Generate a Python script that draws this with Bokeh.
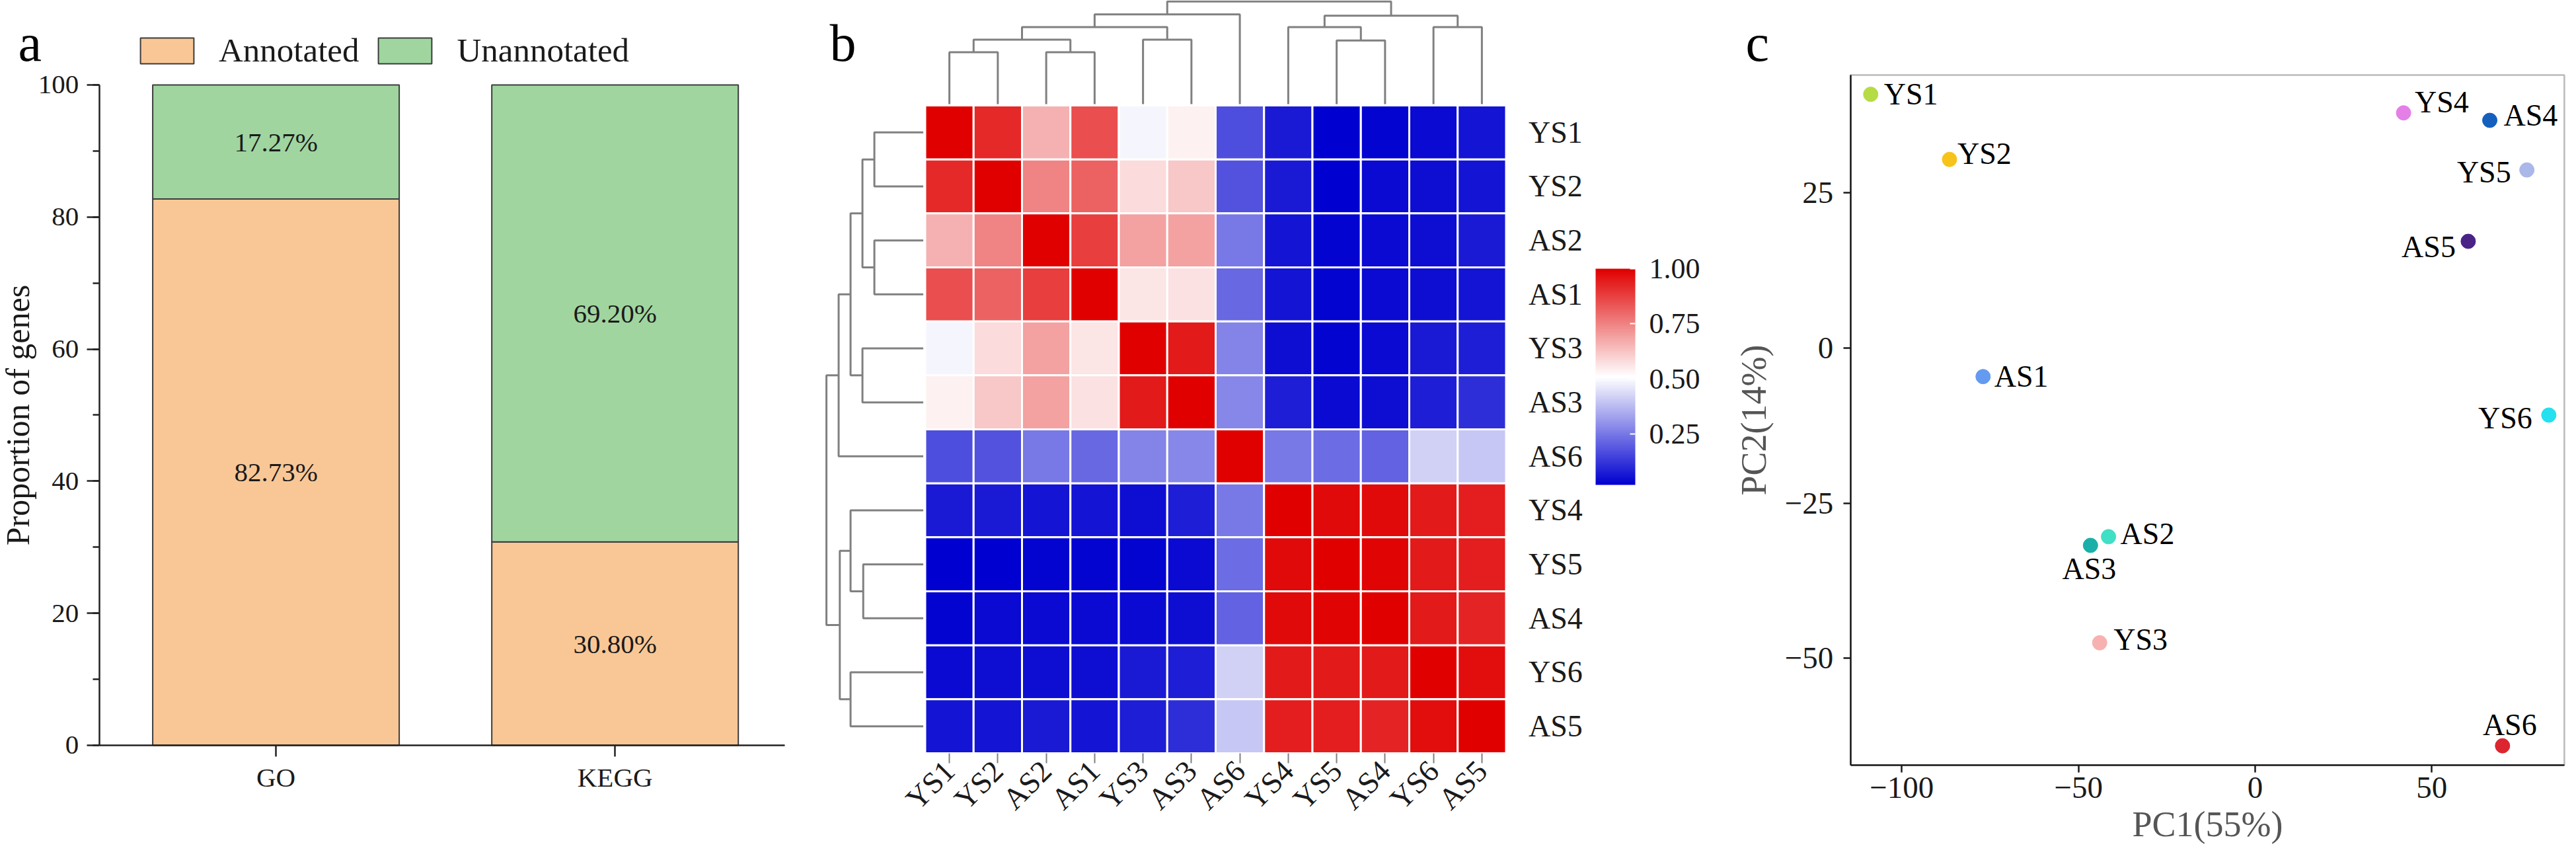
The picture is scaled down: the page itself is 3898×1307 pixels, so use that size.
import numpy as np
from math import pi
from bokeh.plotting import figure
from bokeh.layouts import row
from bokeh.models import (Range1d, FixedTicker, SingleIntervalTicker, Legend, LegendItem,
                          LinearColorMapper, ColorBar, ColumnDataSource, Label,
                          PrintfTickFormatter, BoxAnnotation)
from bokeh.transform import transform
from bokeh.core.properties import value
from bokeh.embed import file_html
from bokeh.resources import INLINE

SERIF = "Liberation Serif"

# ---- a: share of annotated genes
databases = ["GO", "KEGG"]
annotated = [82.73, 30.80]
unannotated = [17.27, 69.20]

# ---- b: sample correlation, in clustered order
samples = ["YS1", "YS2", "AS2", "AS1", "YS3", "AS3", "AS6", "YS4", "YS5", "AS4", "YS6", "AS5"]
corr = [
    [1.00, 0.92, 0.66, 0.85, 0.49, 0.54, 0.17, 0.07, 0.02, 0.03, 0.04, 0.06],
    [0.92, 1.00, 0.75, 0.81, 0.58, 0.62, 0.18, 0.07, 0.02, 0.04, 0.05, 0.06],
    [0.66, 0.75, 1.00, 0.88, 0.69, 0.69, 0.25, 0.06, 0.03, 0.04, 0.05, 0.07],
    [0.85, 0.81, 0.88, 1.00, 0.56, 0.57, 0.22, 0.06, 0.03, 0.04, 0.05, 0.06],
    [0.49, 0.58, 0.69, 0.56, 1.00, 0.95, 0.27, 0.05, 0.03, 0.04, 0.07, 0.08],
    [0.54, 0.62, 0.69, 0.57, 0.95, 1.00, 0.28, 0.08, 0.04, 0.05, 0.08, 0.11],
    [0.17, 0.18, 0.25, 0.22, 0.27, 0.28, 1.00, 0.25, 0.23, 0.21, 0.42, 0.40],
    [0.07, 0.07, 0.06, 0.06, 0.05, 0.08, 0.25, 1.00, 0.98, 0.98, 0.95, 0.94],
    [0.02, 0.02, 0.03, 0.03, 0.03, 0.04, 0.23, 0.98, 1.00, 0.99, 0.95, 0.94],
    [0.03, 0.04, 0.04, 0.04, 0.04, 0.05, 0.21, 0.98, 0.99, 1.00, 0.95, 0.93],
    [0.04, 0.05, 0.05, 0.05, 0.07, 0.08, 0.42, 0.95, 0.95, 0.95, 1.00, 0.97],
    [0.06, 0.06, 0.07, 0.06, 0.08, 0.11, 0.40, 0.94, 0.94, 0.93, 0.97, 1.00],
]
# hierarchical clustering: (left node, right node, relative height); new nodes numbered from 12
merges = [
    (0, 1, 0.505),
    (2, 3, 0.505),
    (12, 13, 0.628),
    (4, 5, 0.628),
    (14, 15, 0.751),
    (16, 6, 0.874),
    (8, 9, 0.620),
    (7, 18, 0.751),
    (10, 11, 0.751),
    (19, 20, 0.862),
    (17, 21, 1.000),
]
cbar_ticks = [0.25, 0.50, 0.75, 1.00]

# ---- c: PCA
pca_names = ["YS1", "YS2", "AS1", "AS2", "AS3", "YS3", "YS4", "AS4", "YS5", "AS5", "YS6", "AS6"]
pc1 = [-108.8, -86.5, -77.0, -41.5, -46.6, -44.0, 42.0, 66.4, 76.9, 60.3, 83.1, 70.0]
pc2 = [40.9, 30.4, -4.6, -30.4, -31.8, -47.5, 37.9, 36.7, 28.7, 17.2, -10.8, -64.1]
pca_colors = ["#b5dc45", "#f7c31a", "#649bf0", "#3fe0c5", "#1bafaa", "#f8b1b1",
              "#e57fe8", "#1560bd", "#a9b8e8", "#4b2387", "#25e0ee", "#dd2530"]
pc1_ticks = [-100, -50, 0, 50]
pc2_ticks = [-50, -25, 0, 25]
pc1_lim = (-114.5, 87.5)
pc2_lim = (-67.2, 44.0)

# label placement (screen px offset, alignment), like repelled labels
label_nudge = {
    "YS1": (20, 0, "left"), "YS2": (12, -9, "left"), "AS1": (17, 0, "left"),
    "AS2": (18, -4, "left"), "AS3": (-2, 36, "center"), "YS3": (21, -5, "left"),
    "YS4": (17, -16, "left"), "AS4": (21, -8, "left"), "YS5": (-24, 3, "right"),
    "AS5": (-19, 8, "right"), "YS6": (-25, 5, "right"), "AS6": (11, -32, "center"),
}

ORANGE = "#f9c796"
GREEN = "#a0d5a0"
EDGE = "#3c3c3c"
INK = "#1a1a1a"
H = 1291


def ramp(c1, c2, n):
    a = np.array(c1, float)
    b = np.array(c2, float)
    return ["#%02x%02x%02x" % tuple(int(round(v)) for v in a + (b - a) * t)
            for t in np.linspace(0, 1, n)]


def dendro_paths(merges, n):
    pos = {i: (float(i), 0.0) for i in range(n)}
    paths = []
    for k, (a, b, h) in enumerate(merges):
        (ca, ha), (cb, hb) = pos[a], pos[b]
        paths.append(([ca, ca, cb, cb], [ha, h, h, hb]))
        pos[n + k] = ((ca + cb) / 2, h)
    return paths


def panel_letter(p, letter, x):
    p.add_layout(Label(x=x, y=H - 64, x_units="screen", y_units="screen", text=letter,
                       text_font=SERIF, text_font_size="80px", text_color="black",
                       text_baseline="alphabetic", text_align="left"))


def bare_figure(width, xr, yr, **kw):
    p = figure(width=width, height=H, x_range=Range1d(*xr), y_range=Range1d(*yr),
               output_backend="svg", toolbar_location=None, min_border=0, **kw)
    p.grid.visible = False
    p.outline_line_color = None
    return p


# ================= panel a =================
pa = bare_figure(1195, (0.1871, 2.5161), (-16.42, 112.81))
AXIS_X = 0.4788
xpos = [i + 1 for i in range(len(databases))]
src_a = ColumnDataSource(dict(x=xpos, ann=annotated,
                              top=[a + u for a, u in zip(annotated, unannotated)]))
r_ann = pa.vbar(x="x", width=0.727, bottom=0, top="ann", source=src_a,
                fill_color=ORANGE, line_color=EDGE, line_width=2)
r_un = pa.vbar(x="x", width=0.727, bottom="ann", top="top", source=src_a,
               fill_color=GREEN, line_color=EDGE, line_width=2)
pa.text(x=xpos + xpos,
        y=[a / 2 for a in annotated] + [a + u / 2 for a, u in zip(annotated, unannotated)],
        text=["%.2f%%" % v for v in annotated + unannotated],
        text_align="center", text_baseline="middle", text_font=value(SERIF),
        text_font_size="41px", text_color=INK)

legend = Legend(items=[LegendItem(label="Annotated", renderers=[r_ann]),
                       LegendItem(label="Unannotated", renderers=[r_un])],
                orientation="horizontal", location=(202, H - 47 - 58),
                glyph_width=101, glyph_height=49, label_standoff=28, spacing=19,
                padding=0, margin=0, border_line_color=None, background_fill_alpha=0,
                label_text_font=SERIF, label_text_font_size="51px", label_text_color=INK)
pa.add_layout(legend)

pa.yaxis.fixed_location = AXIS_X
pa.yaxis.bounds = (0, 100)
pa.yaxis.ticker = SingleIntervalTicker(interval=20, num_minor_ticks=2)
pa.yaxis.axis_label = "Proportion of genes"
pa.yaxis.axis_label_text_font = SERIF
pa.yaxis.axis_label_text_font_size = "50px"
pa.yaxis.axis_label_text_font_style = "normal"
pa.yaxis.axis_label_text_color = INK
pa.yaxis.axis_label_standoff = 0
pa.yaxis.major_label_standoff = 12
pa.yaxis.minor_tick_out = 10
pa.yaxis.minor_tick_in = 0
pa.yaxis.major_tick_out = 19
pa.xaxis.fixed_location = 0
pa.xaxis.bounds = (AXIS_X, 2.50)
pa.xaxis.ticker = FixedTicker(ticks=xpos)
pa.xaxis.major_label_overrides = {x: d for x, d in zip(xpos, databases)}
pa.xaxis.major_label_standoff = 9
pa.xaxis.major_tick_out = 17
for ax in (pa.xaxis, pa.yaxis):
    ax.major_tick_in = 0
    ax.axis_line_width = 2.5
    ax.axis_line_color = "#222222"
    ax.major_tick_line_width = 2.5
    ax.major_tick_line_color = "#222222"
    ax.minor_tick_line_width = 2.5
    ax.minor_tick_line_color = "#222222"
    ax.major_label_text_font = SERIF
    ax.major_label_text_font_size = "41px"
    ax.major_label_text_color = INK
pa.xaxis.minor_tick_line_color = None
panel_letter(pa, "a", 27)

# ================= panel b =================
n = len(samples)
gap_x, gap_y = 0.04, 0.025
span_x, span_y = 2.0, 1.9
pb = bare_figure(1395, (-3.2918, 15.7526), (-2.3612, 13.4465), y_axis_location="right")

flat = [v for r in corr for v in r]
palette = ramp((0, 0, 208), (255, 255, 255), 128) + ramp((255, 255, 255), (224, 0, 0), 128)
mapper = LinearColorMapper(palette=palette, low=min(flat), high=max(flat))
src_b = ColumnDataSource(dict(
    x=[j for i in range(n) for j in range(n)],
    y=[n - 1 - i for i in range(n) for j in range(n)],
    v=flat))
pb.rect(x="x", y="y", width=1, height=1, source=src_b,
        fill_color=transform("v", mapper), line_color="white", line_width=3)

paths = dendro_paths(merges, n)
pb.multi_line(xs=[p[0] for p in paths],
              ys=[[n - 0.5 + gap_y + h * span_y for h in p[1]] for p in paths],
              line_color="#808080", line_width=3)
pb.multi_line(xs=[[-0.5 - gap_x - h * span_x for h in p[1]] for p in paths],
              ys=[[n - 1 - c for c in p[0]] for p in paths],
              line_color="#808080", line_width=3)

pb.xaxis.fixed_location = -0.5
pb.xaxis.ticker = FixedTicker(ticks=list(range(n)))
pb.xaxis.major_label_overrides = {j: s for j, s in enumerate(samples)}
pb.xaxis.major_label_orientation = pi / 4
pb.xaxis.major_tick_out = 15
pb.xaxis.major_tick_line_color = "#808080"
pb.xaxis.major_tick_line_width = 2
pb.xaxis.major_label_standoff = 4
pb.yaxis.fixed_location = n - 0.5
pb.yaxis.ticker = FixedTicker(ticks=[n - 1 - i for i in range(n)])
pb.yaxis.major_label_overrides = {n - 1 - i: s for i, s in enumerate(samples)}
pb.yaxis.major_tick_line_color = None
pb.yaxis.major_label_standoff = 28
for ax in (pb.xaxis, pb.yaxis):
    ax.axis_line_color = None
    ax.major_tick_in = 0
    ax.minor_tick_line_color = None
    ax.major_label_text_font = SERIF
    ax.major_label_text_font_size = "46px"
    ax.major_label_text_color = INK

cbar = ColorBar(color_mapper=mapper, ticker=FixedTicker(ticks=cbar_ticks),
                formatter=PrintfTickFormatter(format="%.2f"),
                width=60, height=327, location=(1219, H - 741 + 8), padding=0, margin=0,
                label_standoff=21, major_label_text_font=SERIF,
                major_label_text_font_size="44px", major_label_text_color=INK,
                major_tick_line_color="white", major_tick_line_width=2,
                major_tick_in=8, major_tick_out=0, minor_tick_line_color=None,
                bar_line_color=None, border_line_color=None, background_fill_alpha=0)
pb.add_layout(cbar)
panel_letter(pb, "b", 60)

# ================= panel c =================
pc = bare_figure(1292, (-153.73, 87.90), (-81.50, 56.04))
pc.scatter(pc1, pc2, size=22, fill_color=pca_colors, line_color=pca_colors)
for align in ("left", "right", "center"):
    idx = [i for i, s in enumerate(pca_names) if label_nudge[s][2] == align]
    src = ColumnDataSource(dict(x=[pc1[i] for i in idx], y=[pc2[i] for i in idx],
                                t=[pca_names[i] for i in idx],
                                dx=[label_nudge[pca_names[i]][0] for i in idx],
                                dy=[label_nudge[pca_names[i]][1] for i in idx]))
    pc.text(x="x", y="y", text="t", x_offset="dx", y_offset="dy", source=src,
            text_align=align, text_baseline="middle", text_font=value(SERIF),
            text_font_size="46px", text_color="black")
pc.add_layout(BoxAnnotation(left=pc1_lim[0], right=pc1_lim[1], bottom=pc2_lim[0], top=pc2_lim[1],
                            fill_alpha=0, line_color="#1a1a1a", line_width=2.5))

pc.xaxis.fixed_location = pc2_lim[0]
pc.xaxis.bounds = pc1_lim
pc.yaxis.fixed_location = pc1_lim[0]
pc.yaxis.bounds = pc2_lim
pc.xaxis.ticker = FixedTicker(ticks=pc1_ticks)
pc.xaxis.major_label_overrides = {t: str(t).replace("-", "\u2212") for t in pc1_ticks}
pc.yaxis.ticker = FixedTicker(ticks=pc2_ticks)
pc.yaxis.major_label_overrides = {t: str(t).replace("-", "\u2212") for t in pc2_ticks}
pc.xaxis.axis_label = "PC1(55%)"
pc.yaxis.axis_label = "PC2(14%)"
pc.xaxis.major_label_standoff = 8
pc.yaxis.major_label_standoff = 15
pc.xaxis.axis_label_standoff = 6
pc.yaxis.axis_label_standoff = 14
for ax in (pc.xaxis, pc.yaxis):
    ax.major_tick_out = 11
    ax.major_tick_in = 0
    ax.minor_tick_line_color = None
    ax.axis_line_width = 2.5
    ax.axis_line_color = "#1a1a1a"
    ax.major_tick_line_width = 2.5
    ax.major_tick_line_color = "#1a1a1a"
    ax.major_label_text_font = SERIF
    ax.major_label_text_font_size = "47px"
    ax.major_label_text_color = INK
    ax.axis_label_text_font = SERIF
    ax.axis_label_text_font_size = "54px"
    ax.axis_label_text_font_style = "normal"
    ax.axis_label_text_color = "#555555"
panel_letter(pc, "c", 51)

layout = row(pa, pb, pc)
open("out.html", "w").write(file_html(layout, INLINE))
